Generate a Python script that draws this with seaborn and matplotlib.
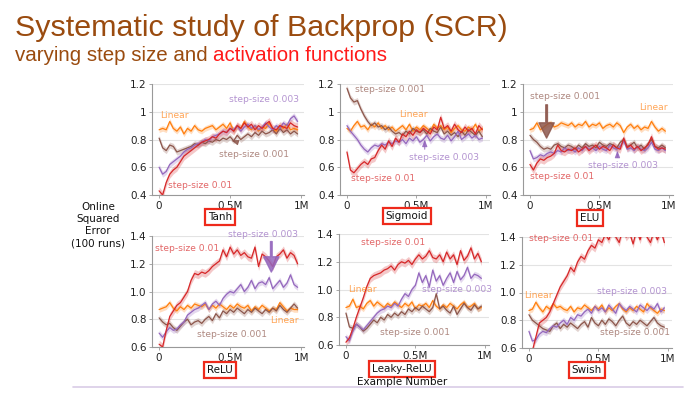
import numpy as np
import pandas as pd
import matplotlib.pyplot as plt
import seaborn as sns
from matplotlib.lines import Line2D

# example numbers: one point every 25K examples
steps = np.arange(40) * 25000
series_names = ['Linear', 'step-size 0.001', 'step-size 0.003', 'step-size 0.01']
colors = {'Linear': '#ff7f0e', 'step-size 0.001': '#8c564b',
          'step-size 0.003': '#9467bd', 'step-size 0.01': '#d62728'}
band = {'Linear': 0.02, 'step-size 0.001': 0.022, 'step-size 0.003': 0.022, 'step-size 0.01': 0.028}

# --- Tanh
tanh_linear = [0.87,0.88,0.87,0.93,0.88,0.86,0.89,0.84,0.88,0.86,0.90,0.87,0.86,0.88,0.89,0.90,0.87,0.89,0.91,0.88,
               0.92,0.86,0.90,0.88,0.93,0.89,0.87,0.90,0.86,0.89,0.88,0.92,0.87,0.86,0.90,0.88,0.91,0.87,0.88,0.87]
tanh_001 = [0.81,0.74,0.72,0.76,0.75,0.71,0.72,0.73,0.74,0.75,0.77,0.76,0.78,0.77,0.79,0.78,0.80,0.79,0.81,0.80,
            0.82,0.79,0.83,0.80,0.82,0.84,0.82,0.85,0.83,0.86,0.84,0.85,0.87,0.84,0.88,0.85,0.87,0.84,0.86,0.84]
tanh_003 = [0.60,0.55,0.57,0.62,0.64,0.66,0.68,0.71,0.73,0.74,0.76,0.77,0.78,0.80,0.79,0.82,0.83,0.84,0.86,0.85,
            0.88,0.87,0.90,0.86,0.89,0.91,0.88,0.90,0.87,0.89,0.92,0.89,0.87,0.90,0.88,0.92,0.90,0.95,0.97,0.93]
tanh_01 = [0.43,0.40,0.49,0.55,0.58,0.60,0.64,0.68,0.70,0.72,0.74,0.76,0.78,0.79,0.80,0.82,0.81,0.84,0.86,0.85,
           0.88,0.86,0.90,0.88,0.92,0.89,0.91,0.87,0.90,0.88,0.91,0.93,0.88,0.87,0.90,0.89,0.88,0.92,0.90,0.89]

# --- Sigmoid
sigm_linear = [0.88,0.86,0.90,0.93,0.89,0.90,0.87,0.91,0.89,0.92,0.88,0.90,0.87,0.89,0.86,0.88,0.90,0.87,0.91,0.86,
               0.89,0.87,0.90,0.88,0.86,0.91,0.88,0.90,0.87,0.89,0.85,0.88,0.90,0.87,0.86,0.89,0.87,0.91,0.86,0.88]
sigm_001 = [1.17,1.10,1.07,1.08,1.02,0.97,0.93,0.90,0.92,0.89,0.90,0.87,0.89,0.86,0.84,0.85,0.83,0.86,0.84,0.88,
            0.86,0.85,0.87,0.84,0.88,0.86,0.85,0.89,0.84,0.86,0.83,0.85,0.82,0.86,0.83,0.87,0.85,0.83,0.86,0.82]
sigm_003 = [0.90,0.86,0.83,0.80,0.76,0.73,0.71,0.74,0.76,0.75,0.77,0.76,0.78,0.77,0.79,0.78,0.80,0.77,0.81,0.79,
            0.82,0.78,0.80,0.83,0.79,0.82,0.84,0.81,0.80,0.83,0.79,0.82,0.86,0.80,0.82,0.84,0.81,0.83,0.80,0.81]
sigm_01 = [0.71,0.58,0.56,0.59,0.62,0.64,0.62,0.66,0.67,0.72,0.76,0.73,0.79,0.75,0.81,0.78,0.84,0.82,0.86,0.83,
           0.87,0.85,0.88,0.86,0.84,0.89,0.87,0.96,0.88,0.90,0.86,0.91,0.87,0.85,0.89,0.86,0.88,0.84,0.90,0.87]

# --- ELU
elu_linear = [0.87,0.88,0.92,0.87,0.89,0.91,0.92,0.89,0.90,0.92,0.91,0.90,0.92,0.89,0.91,0.90,0.93,0.89,0.91,0.90,
              0.92,0.88,0.90,0.91,0.89,0.92,0.90,0.85,0.89,0.91,0.88,0.90,0.87,0.89,0.88,0.93,0.89,0.86,0.88,0.86]
elu_001 = [0.83,0.80,0.78,0.75,0.73,0.74,0.73,0.76,0.77,0.75,0.74,0.76,0.75,0.73,0.76,0.74,0.77,0.75,0.76,0.74,
           0.78,0.76,0.75,0.77,0.76,0.74,0.78,0.80,0.75,0.76,0.78,0.74,0.76,0.73,0.77,0.80,0.75,0.74,0.76,0.74]
elu_003 = [0.72,0.66,0.67,0.69,0.68,0.70,0.71,0.70,0.72,0.71,0.74,0.72,0.73,0.71,0.74,0.72,0.75,0.73,0.74,0.72,
           0.75,0.73,0.72,0.76,0.74,0.73,0.75,0.79,0.73,0.74,0.72,0.75,0.73,0.72,0.74,0.78,0.73,0.72,0.74,0.72]
elu_01 = [0.62,0.58,0.63,0.66,0.65,0.67,0.68,0.70,0.76,0.72,0.71,0.73,0.72,0.74,0.71,0.73,0.75,0.72,0.74,0.76,
          0.73,0.75,0.74,0.72,0.76,0.74,0.73,0.81,0.74,0.76,0.73,0.75,0.72,0.74,0.76,0.82,0.75,0.73,0.74,0.73]

# --- ReLU
relu_linear = [0.87,0.88,0.89,0.92,0.88,0.86,0.89,0.87,0.90,0.88,0.91,0.90,0.89,0.91,0.87,0.90,0.88,0.91,0.89,0.87,
               0.90,0.88,0.91,0.89,0.88,0.90,0.86,0.89,0.87,0.90,0.88,0.86,0.88,0.87,0.92,0.89,0.86,0.88,0.87,0.87]
relu_001 = [0.81,0.78,0.76,0.77,0.74,0.72,0.75,0.78,0.80,0.76,0.78,0.79,0.77,0.80,0.82,0.79,0.84,0.81,0.86,0.84,
            0.87,0.85,0.88,0.86,0.84,0.87,0.85,0.88,0.86,0.84,0.87,0.85,0.88,0.86,0.90,0.87,0.85,0.88,0.91,0.88]
relu_003 = [0.70,0.67,0.71,0.74,0.72,0.73,0.76,0.78,0.83,0.85,0.87,0.88,0.90,0.92,0.87,0.91,0.93,0.90,0.95,0.98,
            1.00,0.99,1.02,1.05,1.00,1.03,1.08,1.02,1.06,1.07,1.05,1.10,1.02,1.05,1.08,1.03,1.06,1.12,1.05,1.03]
relu_01 = [0.62,0.60,0.72,0.82,0.86,0.90,0.92,0.96,1.00,1.08,1.13,1.12,1.14,1.13,1.15,1.18,1.20,1.22,1.30,1.25,
           1.32,1.27,1.30,1.26,1.28,1.25,1.24,1.32,1.18,1.27,1.25,1.22,1.18,1.25,1.27,1.30,1.24,1.28,1.26,1.20]

# --- Leaky-ReLU
leaky_linear = [0.87,0.88,0.93,0.87,0.88,0.86,0.90,0.92,0.88,0.91,0.89,0.87,0.90,0.88,0.91,0.89,0.87,0.90,0.88,0.91,
                0.86,0.89,0.88,0.90,0.87,0.92,0.88,0.86,0.89,0.87,0.90,0.88,0.86,0.89,0.91,0.87,0.88,0.90,0.86,0.87]
leaky_001 = [0.83,0.73,0.72,0.75,0.73,0.70,0.72,0.75,0.78,0.76,0.80,0.78,0.82,0.80,0.83,0.81,0.84,0.82,0.86,0.84,
             0.87,0.85,0.88,0.86,0.84,0.87,0.97,0.86,0.88,0.85,0.83,0.88,0.82,0.86,0.90,0.87,0.85,0.89,0.86,0.88]
leaky_003 = [0.66,0.63,0.70,0.75,0.73,0.71,0.74,0.77,0.80,0.83,0.85,0.86,0.88,0.87,0.90,0.88,0.93,0.97,0.95,1.00,
             1.03,1.12,1.05,1.10,1.02,1.14,1.06,1.10,1.03,1.08,1.12,1.05,1.13,1.07,1.10,1.16,1.08,1.11,1.10,1.08]
leaky_01 = [0.62,0.65,0.72,0.80,0.87,0.94,1.02,1.08,1.10,1.11,1.12,1.14,1.15,1.17,1.14,1.18,1.20,1.19,1.21,1.18,
            1.22,1.25,1.22,1.24,1.28,1.23,1.22,1.25,1.20,1.27,1.22,1.25,1.18,1.28,1.21,1.24,1.30,1.22,1.26,1.20]

# --- Swish
swish_linear = [0.87,0.88,0.93,0.89,0.86,0.90,0.88,0.92,0.89,0.90,0.88,0.87,0.90,0.86,0.89,0.88,0.91,0.89,0.87,0.90,
                0.88,0.91,0.86,0.89,0.87,0.90,0.92,0.88,0.86,0.89,0.87,0.90,0.88,0.86,0.92,0.89,0.87,0.85,0.88,0.87]
swish_001 = [0.84,0.80,0.78,0.76,0.74,0.73,0.72,0.76,0.78,0.74,0.77,0.75,0.78,0.76,0.74,0.77,0.79,0.75,0.82,0.78,
             0.76,0.80,0.77,0.81,0.79,0.76,0.80,0.83,0.78,0.76,0.79,0.77,0.80,0.78,0.76,0.79,0.82,0.78,0.76,0.75]
swish_003 = [0.72,0.65,0.66,0.70,0.72,0.71,0.74,0.76,0.75,0.78,0.80,0.77,0.82,0.80,0.84,0.83,0.86,0.88,0.85,0.90,
             0.87,0.89,0.86,0.91,0.88,0.85,0.92,0.89,0.87,0.90,0.88,0.86,0.91,0.89,0.87,0.90,0.88,0.92,0.86,0.89]
swish_01 = [0.55,0.58,0.68,0.78,0.80,0.82,0.86,0.92,0.98,1.04,1.08,1.12,1.18,1.15,1.22,1.26,1.24,1.30,1.34,1.32,
            1.38,1.36,1.42,1.38,1.45,1.40,1.36,1.46,1.40,1.43,1.35,1.45,1.38,1.47,1.40,1.36,1.44,1.38,1.45,1.36]

panel_names = ['Tanh', 'Sigmoid', 'ELU', 'ReLU', 'Leaky-ReLU', 'Swish']
panel_data = [
    [tanh_linear, tanh_001, tanh_003, tanh_01],
    [sigm_linear, sigm_001, sigm_003, sigm_01],
    [elu_linear, elu_001, elu_003, elu_01],
    [relu_linear, relu_001, relu_003, relu_01],
    [leaky_linear, leaky_001, leaky_003, leaky_01],
    [swish_linear, swish_001, swish_003, swish_01],
]
x_tick_labels = ['0', '0.5M', '1M']
top_yticks = [0.4, 0.6, 0.8, 1.0, 1.2]
top_ylabels = ['0.4', '0.6', '0.8', '1', '1.2']
bottom_yticks = [0.6, 0.8, 1.0, 1.2, 1.4]
bottom_ylabels = ['0.6', '0.8', '1.0', '1.2', '1.4']

sns.set_style("ticks", {"axes.grid": True, "grid.color": "#e3e3e3", "axes.edgecolor": "#999999"})
plt.rcParams['font.family'] = ['DejaVu Sans']

W, H = 696, 396
fig = plt.figure(figsize=(W / 100, H / 100), dpi=100)

# axes boxes in pixels: left, top, width, height
boxes = [(152, 84, 152, 111), (340, 84, 150, 111), (523, 84, 150, 111),
         (152, 236, 152, 111), (339, 234, 150, 111), (522, 237, 150, 111)]

# label positions (x in examples, y in error) per panel
labels = [
    {'Linear': (0.01e6, 0.97, 'left'), 'step-size 0.003': (0.74e6, 1.085, 'center'),
     'step-size 0.001': (0.67e6, 0.69, 'center'), 'step-size 0.01': (0.06e6, 0.47, 'left')},
    {'step-size 0.001': (0.06e6, 1.16, 'left'), 'Linear': (0.48e6, 0.98, 'center'),
     'step-size 0.003': (0.70e6, 0.67, 'center'), 'step-size 0.01': (0.26e6, 0.52, 'center')},
    {'step-size 0.001': (0.25e6, 1.11, 'center'), 'Linear': (0.89e6, 1.03, 'center'),
     'step-size 0.003': (0.67e6, 0.61, 'center'), 'step-size 0.01': (0.23e6, 0.53, 'center')},
    {'step-size 0.01': (0.20e6, 1.31, 'center'), 'step-size 0.003': (0.73e6, 1.41, 'center'),
     'Linear': (0.88e6, 0.79, 'center'), 'step-size 0.001': (0.51e6, 0.69, 'center')},
    {'step-size 0.01': (0.34e6, 1.34, 'center'), 'Linear': (0.12e6, 1.0, 'center'),
     'step-size 0.003': (0.80e6, 1.0, 'center'), 'step-size 0.001': (0.50e6, 0.69, 'center')},
    {'step-size 0.01': (0.23e6, 1.39, 'center'), 'Linear': (0.07e6, 0.975, 'center'),
     'step-size 0.003': (0.74e6, 1.01, 'center'), 'step-size 0.001': (0.76e6, 0.71, 'center')},
]

# arrows: panel, series, tail, head, big head?
arrows = [
    (0, 'step-size 0.001', (0.55e6, 0.78), (0.49e6, 0.80), False),
    (1, 'step-size 0.003', (0.56e6, 0.71), (0.56e6, 0.82), False),
    (2, 'step-size 0.001', (0.12e6, 1.07), (0.12e6, 0.79), True),
    (2, 'step-size 0.003', (0.63e6, 0.65), (0.63e6, 0.74), False),
    (3, 'step-size 0.003', (0.79e6, 1.38), (0.79e6, 1.12), True),
]

axes = []
for i, (name, series) in enumerate(zip(panel_names, panel_data)):
    l, t, w, h = boxes[i]
    ax = fig.add_axes([l / W, 1 - (t + h) / H, w / W, h / H])
    axes.append(ax)
    df = pd.DataFrame({
        'step': np.tile(steps, len(series_names)),
        'error': np.concatenate(series),
        'run': np.repeat(series_names, len(steps)),
    })
    for s, vals in zip(series_names, series):
        vals = np.array(vals)
        ax.fill_between(steps, vals - band[s], vals + band[s], color=colors[s], alpha=0.25, lw=0)
    sns.lineplot(data=df, x='step', y='error', hue='run', palette=colors, errorbar=None,
                 linewidth=0.9, legend=False, ax=ax)
    ax.set_xlim(-0.05e6, 1.03e6 if i != 0 and i != 3 else 1.02e6)
    if i < 3:
        ax.set_ylim(0.4, 1.2)
        ax.set_yticks(top_yticks)
        ax.set_yticklabels(top_ylabels)
    else:
        ax.set_ylim(0.6, 1.4)
        ax.set_yticks(bottom_yticks)
        ax.set_yticklabels(bottom_ylabels)
    ax.set_xticks([0, 0.5e6, 1e6])
    ax.set_xticklabels(x_tick_labels)
    ax.grid(axis='x', visible=False)
    ax.grid(axis='y', color='#e3e3e3', lw=0.8)
    ax.tick_params(labelsize=7.5, length=2.5, width=0.6, color='#999999', pad=1.5, labelcolor='#222222')
    ax.set_xlabel('')
    ax.set_ylabel('')
    sns.despine(ax=ax)
    for s, (tx, ty, ha) in labels[i].items():
        ax.text(tx, ty, s, color=colors[s], alpha=0.7, fontsize=6.6, ha=ha, va='center')

for i, s, tail, head, big in arrows:
    c = colors[s]
    if big:
        style = dict(arrowstyle='simple,head_length=1.1,head_width=1.1,tail_width=0.12', color=c, alpha=0.85)
    else:
        style = dict(arrowstyle='-|>,head_length=0.4,head_width=0.15', color=c, lw=0.8, alpha=0.85)
    axes[i].annotate('', xy=head, xytext=tail, arrowprops=style)

# boxed activation names
name_pos = [(220, 217), (407, 216), (590, 218), (220, 370), (402, 369), (587, 370)]
for name, (px, py) in zip(panel_names, name_pos):
    fig.text(px / W, 1 - py / H, name, fontsize=7.5, ha='center', va='center', color='#111111',
             bbox=dict(boxstyle='square,pad=0.3', fc='white', ec='#ee2a1b', lw=1.6))

fig.text(402 / W, 1 - 382 / H, 'Example Number', fontsize=7.5, ha='center', va='center', color='#111111')
fig.text(98 / W, 1 - 225 / H, 'Online\nSquared\nError\n(100 runs)', fontsize=7.5, ha='center',
         va='center', linespacing=1.25, color='#111111')

# title and subtitle, scaled so they span the same width as in the slide
brown = '#9a4b0f'
title = fig.text(15 / W, 1 - 36 / H, 'Systematic study of Backprop (SCR)', fontsize=22, color=brown,
                 family='Liberation Sans', ha='left', va='baseline')
t1 = fig.text(15 / W, 1 - 61 / H, 'varying step size and ', fontsize=14.6, color=brown,
              family='Liberation Sans', ha='left', va='baseline')
t2 = plt.Annotation('activation functions', xy=(1, 0), xycoords=t1, va='bottom', ha='left',
                    fontsize=14.6, color='#ff1a1a', family='Liberation Sans')
fig.add_artist(t2)

fig.canvas.draw()
r = fig.canvas.get_renderer()
tw = title.get_window_extent(r).width
title.set_fontsize(22 * (507 - 15) / tw)
sw = t2.get_window_extent(r).x1 - t1.get_window_extent(r).x0
new = 14.6 * (388 - 15) / sw
t1.set_fontsize(new)
t2.set_fontsize(new)

fig.add_artist(Line2D([73 / W, 683 / W], [1 - 387 / H, 1 - 387 / H], color='#d9cce6', lw=1.2))

fig.savefig('out.png', dpi=100)
